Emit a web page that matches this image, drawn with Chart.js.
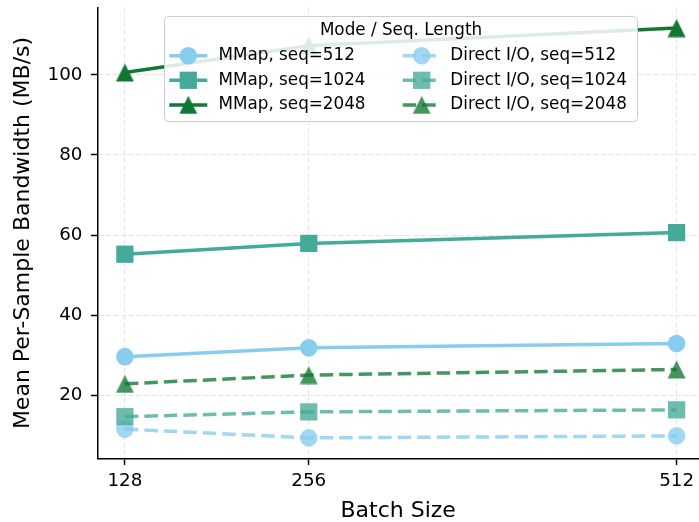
<!DOCTYPE html>
<html><head><meta charset="utf-8">
<script src="https://cdn.jsdelivr.net/npm/chart.js@4/dist/chart.umd.min.js"></script>
<style>html,body{margin:0;padding:0;background:#fff}#wrap{width:699px;height:522px;position:relative}</style>
</head><body><div id="wrap"><canvas id="c" width="699" height="522"></canvas></div>
<script>
const batchSizes = [128, 256, 512];
const mmapSeq512 = [29.6, 31.8, 32.9];
const mmapSeq1024 = [55.2, 57.9, 60.6];
const mmapSeq2048 = [100.6, 107.3, 111.7];
const directSeq512 = [11.5, 9.3, 9.8];
const directSeq1024 = [14.6, 15.8, 16.3];
const directSeq2048 = [22.8, 25.0, 26.4];
const yTickValues = [20, 40, 60, 80, 100];
const seriesLabels = ['MMap, seq=512', 'MMap, seq=1024', 'MMap, seq=2048',
  'Direct I/O, seq=512', 'Direct I/O, seq=1024', 'Direct I/O, seq=2048'];
const legendTitle = 'Mode / Seq. Length';
const xTitle = 'Batch Size';
const yTitle = 'Mean Per-Sample Bandwidth (MB/s)';

const FONT = "'DejaVu Sans', sans-serif";
const solidColors = ['#88CCEE', '#44AA99', '#117733'];
const alphaColors = ['rgba(136,204,238,0.78)', 'rgba(68,170,153,0.78)', 'rgba(17,119,51,0.78)'];

function makeTriangle(color) {
  const s = 19;
  const c = document.createElement('canvas');
  c.width = s; c.height = s;
  const g = c.getContext('2d');
  g.fillStyle = color;
  g.beginPath();
  g.moveTo(9.5, 0.5); g.lineTo(18.5, 18.5); g.lineTo(0.5, 18.5); g.closePath();
  g.fill();
  return c;
}

const seriesValues = [mmapSeq512, mmapSeq1024, mmapSeq2048, directSeq512, directSeq1024, directSeq2048];
const datasets = seriesValues.map((vals, i) => {
  const k = i % 3;
  const direct = i >= 3;
  const color = direct ? alphaColors[k] : solidColors[k];
  let pointStyle, pointRadius;
  if (k === 0) { pointStyle = 'circle'; pointRadius = 8.8; }
  else if (k === 1) { pointStyle = 'rect'; pointRadius = 12.2; }
  else { pointStyle = makeTriangle(color); pointRadius = 9.5; }
  return {
    label: seriesLabels[i],
    data: batchSizes.map((x, j) => ({ x: x, y: vals[j] })),
    borderColor: color,
    backgroundColor: color,
    pointBackgroundColor: color,
    pointBorderWidth: 0,
    pointRadius: pointRadius,
    pointHoverRadius: pointRadius,
    pointStyle: pointStyle,
    borderWidth: 3.5,
    borderDash: direct ? [13.5, 6] : [],
    tension: 0,
    fill: false,
    clip: false,
    order: 5 - i
  };
});

function drawMarker(ctx, style, r, x, y, color) {
  ctx.save();
  ctx.setLineDash([]);
  ctx.fillStyle = color;
  if (style instanceof HTMLCanvasElement) {
    ctx.drawImage(style, x - style.width / 2, y - style.height / 2);
  } else if (style === 'circle') {
    ctx.beginPath(); ctx.arc(x, y, r, 0, Math.PI * 2); ctx.fill();
  } else if (style === 'rect') {
    const h = r * Math.SQRT1_2;
    ctx.fillRect(x - h, y - h, 2 * h, 2 * h);
  }
  ctx.restore();
}

const legendPlugin = {
  id: 'mplLegend',
  afterDatasetsDraw(chart) {
    const ctx = chart.ctx;
    ctx.save();
    const bx = 164.5, by = 16.5, bw = 473, bh = 105, rr = 4;
    ctx.beginPath();
    ctx.moveTo(bx + rr, by);
    ctx.lineTo(bx + bw - rr, by); ctx.quadraticCurveTo(bx + bw, by, bx + bw, by + rr);
    ctx.lineTo(bx + bw, by + bh - rr); ctx.quadraticCurveTo(bx + bw, by + bh, bx + bw - rr, by + bh);
    ctx.lineTo(bx + rr, by + bh); ctx.quadraticCurveTo(bx, by + bh, bx, by + bh - rr);
    ctx.lineTo(bx, by + rr); ctx.quadraticCurveTo(bx, by, bx + rr, by);
    ctx.closePath();
    ctx.fillStyle = 'rgba(255,255,255,0.86)';
    ctx.fill();
    ctx.strokeStyle = '#cccccc';
    ctx.lineWidth = 1;
    ctx.stroke();

    ctx.fillStyle = '#000';
    ctx.font = '16.8px ' + FONT;
    ctx.textBaseline = 'middle';
    ctx.textAlign = 'center';
    ctx.fillText(legendTitle, bx + bw / 2, 30.5);

    const rowsY = [55.7, 80.3, 104.9];
    const colX = [169.3, 402.7];
    const textX = [218.5, 450.3];
    chart.data.datasets.forEach((ds, i) => {
      const col = i < 3 ? 0 : 1;
      const y = rowsY[i % 3];
      const x0 = colX[col];
      ctx.save();
      ctx.strokeStyle = ds.borderColor;
      ctx.lineWidth = ds.borderWidth;
      ctx.setLineDash(ds.borderDash);
      ctx.beginPath(); ctx.moveTo(x0, y); ctx.lineTo(x0 + 38, y); ctx.stroke();
      ctx.restore();
      drawMarker(ctx, ds.pointStyle, ds.pointRadius, x0 + 19, y, ds.pointBackgroundColor);
      ctx.fillStyle = '#000';
      ctx.textAlign = 'left';
      ctx.textBaseline = 'middle';
      ctx.font = '16.8px ' + FONT;
      ctx.fillText(ds.label, textX[col], y);
    });
    ctx.restore();
  }
};

function zeroPad(axis) {
  axis.paddingLeft = 0; axis.paddingRight = 0; axis.paddingTop = 0; axis.paddingBottom = 0;
}

new Chart(document.getElementById('c'), {
  type: 'line',
  data: { datasets: datasets },
  plugins: [legendPlugin],
  options: {
    responsive: false,
    animation: false,
    devicePixelRatio: 1,
    layout: { autoPadding: false, padding: { top: 7.5, right: 0, left: 0, bottom: 0 } },
    plugins: { legend: { display: false }, tooltip: { enabled: false } },
    scales: {
      x: {
        type: 'linear',
        min: 108.8,
        max: 527.6,
        afterBuildTicks: (axis) => { axis.ticks = batchSizes.map(v => ({ value: v })); },
        afterFit: (axis) => { axis.height = 63.5; zeroPad(axis); },
        ticks: { color: '#000', font: { family: FONT, size: 18.3 }, padding: 5, maxRotation: 0, autoSkip: false },
        grid: { color: '#e3e3e3', lineWidth: 1, tickColor: '#000', tickLength: 6.4, tickWidth: 1.5 },
        border: { display: true, color: '#000', width: 1.5, dash: [5, 2.5] },
        title: { display: true, text: xTitle, color: '#000', font: { family: FONT, size: 22, lineHeight: 1 }, padding: { top: 0, bottom: 0 } }
      },
      y: {
        type: 'linear',
        min: 4.15,
        max: 116.85,
        afterBuildTicks: (axis) => { axis.ticks = yTickValues.map(v => ({ value: v })); },
        afterFit: (axis) => { axis.width = 97.3; zeroPad(axis); },
        ticks: { color: '#000', font: { family: FONT, size: 18.3 }, padding: 8.5 },
        grid: { color: '#e3e3e3', lineWidth: 1, tickColor: '#000', tickLength: 6.4, tickWidth: 1.5 },
        border: { display: true, color: '#000', width: 1.5, dash: [5, 2.5] },
        title: { display: true, text: yTitle, color: '#000', font: { family: FONT, size: 22, lineHeight: 1 }, padding: { top: 12, bottom: 0 } }
      }
    }
  }
});
</script>
</body></html>
